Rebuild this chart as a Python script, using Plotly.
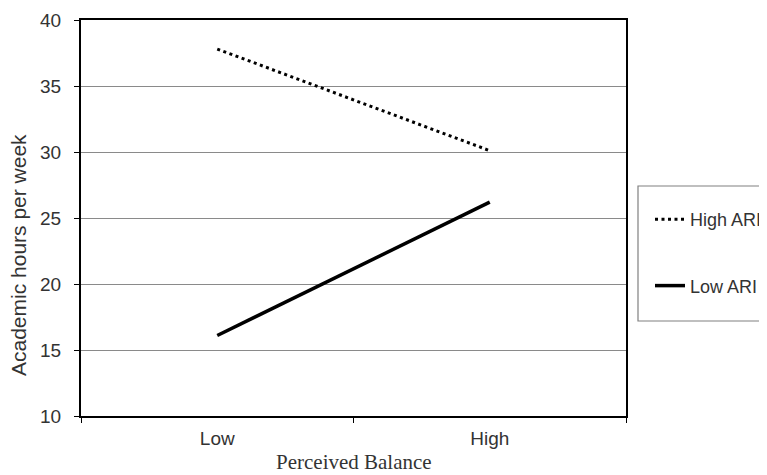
import plotly.graph_objects as go

categories = ["Low", "High"]
high_ari = [37.8, 30.1]
low_ari = [16.1, 26.2]
y_ticks = [10, 15, 20, 25, 30, 35, 40]

# page body adds an 8px offset; size the figure to fit the window
OFF = 8
W, H = 767 - OFF, 475 - OFF
L, T = 81 - OFF, 20 - OFF
R, B = 141, 59
pw, ph = W - L - R, H - T - B

def px_x(x):
    return (x - OFF - L) / pw

def px_y(y):
    return (H - B - (y - OFF)) / ph

fig = go.Figure()
fig.add_trace(go.Scatter(
    x=categories, y=high_ari, mode="lines", name="High ARI",
    legendgroup="a",
    line=dict(color="black", width=3, dash="3px,3.5px"),
))
fig.add_trace(go.Scatter(
    x=categories, y=low_ari, mode="lines", name="Low ARI",
    legendgroup="b",
    line=dict(color="black", width=3.5),
))

font_sans = "Arial, Liberation Sans, sans-serif"

fig.update_layout(
    width=W, height=H,
    margin=dict(l=L, r=R, t=T, b=B, autoexpand=False),
    paper_bgcolor="white", plot_bgcolor="white",
    showlegend=True,
    legend=dict(
        x=px_x(650), y=px_y(201), xanchor="left", yanchor="top",
        xref="paper", yref="paper",
        font=dict(family=font_sans, size=18, color="#333333"),
        bgcolor="rgba(0,0,0,0)", borderwidth=0,
        traceorder="grouped", tracegroupgap=40, itemwidth=30,
    ),
    xaxis=dict(
        type="category", range=[-0.5, 1.5],
        showgrid=False, zeroline=False,
        showline=True, linecolor="black", linewidth=2, mirror=True,
        ticks="outside", ticklen=5, tickcolor="black", tickwidth=1,
        tickson="boundaries",
        tickfont=dict(family=font_sans, size=19, color="#333333"),
        ticklabelstandoff=4,
    ),
    yaxis=dict(
        range=[10, 40], tickvals=y_ticks,
        showgrid=True, gridcolor="#8a8a8a", gridwidth=1,
        zeroline=False,
        showline=True, linecolor="black", linewidth=2, mirror=True,
        ticks="outside", ticklen=5, tickcolor="black", tickwidth=1,
        tickfont=dict(family=font_sans, size=19, color="#333333"),
        ticklabelstandoff=9,
    ),
    shapes=[dict(
        type="rect", xref="paper", yref="paper",
        x0=px_x(638), x1=px_x(800), y0=px_y(321), y1=px_y(186),
        line=dict(color="#808080", width=1.2), fillcolor="rgba(0,0,0,0)",
        layer="below",
    )],
    annotations=[
        dict(text="Academic hours per week", xref="paper", yref="paper",
             x=px_x(18), y=px_y(255), xanchor="center", yanchor="middle",
             textangle=-90, showarrow=False,
             font=dict(family=font_sans, size=21, color="#333333")),
        dict(text="Perceived Balance", xref="paper", yref="paper",
             x=px_x(354), y=px_y(474.5), xanchor="center", yanchor="bottom",
             showarrow=False, borderpad=0,
             font=dict(family="Times New Roman, Liberation Serif, serif", size=21, color="#333333")),
    ],
)

fig.write_html("out.html")
